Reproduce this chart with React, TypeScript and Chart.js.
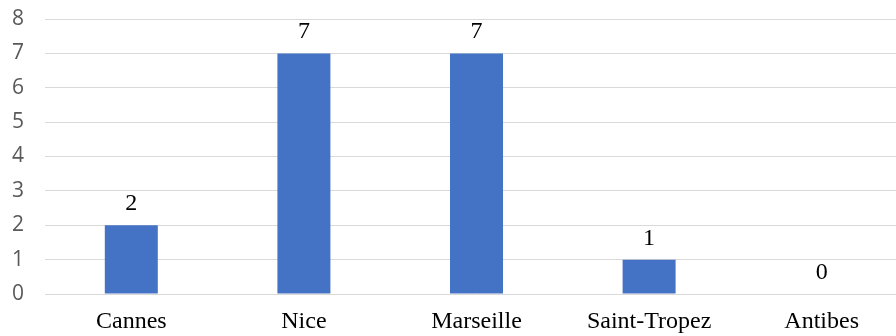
import React, { useEffect, useRef } from "react";
import { Chart, registerables } from "chart.js";

Chart.register(...registerables);

const categories = ["Cannes", "Nice", "Marseille", "Saint-Tropez", "Antibes"];
const values = [2, 7, 7, 1, 0];
const yMin = 0;
const yMax = 8;
const yStep = 1;

const labelPlugin = {
  id: "valueLabels",
  afterDatasetsDraw(chart: any) {
    const ctx = chart.ctx;
    const meta = chart.getDatasetMeta(0);
    ctx.save();
    ctx.font = '24px "Liberation Serif", "Times New Roman", serif';
    ctx.fillStyle = "#000000";
    ctx.textAlign = "center";
    ctx.textBaseline = "alphabetic";
    meta.data.forEach((el: any, i: number) => {
      ctx.fillText(String(values[i]), el.x, el.y - 15);
    });
    ctx.restore();
  },
};

export default function App() {
  const ref = useRef<HTMLCanvasElement>(null);
  useEffect(() => {
    if (!ref.current) return;
    const chart = new Chart(ref.current, {
      type: "bar",
      data: {
        labels: categories,
        datasets: [
          {
            data: values,
            backgroundColor: "#4472C4",
            borderWidth: 0,
            categoryPercentage: 1,
            barPercentage: 0.307,
          },
        ],
      },
      options: {
        responsive: false,
        animation: false,
        maintainAspectRatio: false,
        layout: { padding: { top: 19, right: 0, bottom: 0, left: 12 } },
        plugins: {
          legend: { display: false },
          tooltip: { enabled: false },
        },
        scales: {
          x: {
            grid: { display: false, drawTicks: false },
            border: { display: false },
            ticks: {
              padding: 13,
              color: "#000000",
              font: { family: '"Liberation Serif", "Times New Roman", serif', size: 24 },
              maxRotation: 0,
              autoSkip: false,
            },
            afterFit(scale: any) {
              scale.height = 42;
            },
          },
          y: {
            min: yMin,
            max: yMax,
            grid: { color: "#d9d9d9", lineWidth: 1, drawTicks: false },
            border: { display: false },
            ticks: {
              stepSize: yStep,
              padding: 0,
              crossAlign: "far",
              color: "#595959",
              font: { family: '"Open Sans", sans-serif', size: 21 },
            },
            afterFit(scale: any) {
              scale.width = 33;
            },
          },
        },
      },
      plugins: [labelPlugin],
    });
    return () => chart.destroy();
  }, []);
  return (
    <div style={{ position: "fixed", left: 0, top: 0, width: 896, height: 336, overflow: "hidden", background: "#ffffff" }}>
      <canvas ref={ref} width={908} height={336} style={{ display: "block", width: 908, height: 336 }} />
    </div>
  );
}
